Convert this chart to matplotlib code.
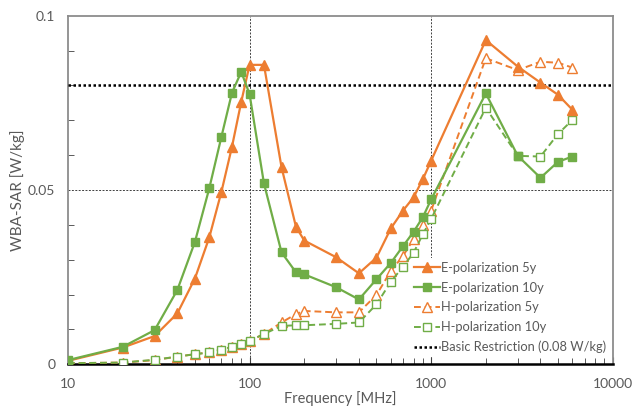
import matplotlib.pyplot as plt
from matplotlib.ticker import FixedLocator, FuncFormatter, MultipleLocator, LogLocator

plt.rcParams['font.family'] = ['Lato', 'DejaVu Sans']

# frequencies [MHz]
freq = [10, 20, 30, 40, 50, 60, 70, 80, 90, 100, 120, 150, 180, 200,
        300, 400, 500, 600, 700, 800, 900, 1000, 2000, 3000, 4000, 5000, 6000]

# WBA-SAR [W/kg]
e_5y = [0.0010, 0.0048, 0.0081, 0.0146, 0.0246, 0.0364, 0.0495, 0.0624, 0.0753, 0.0859,
        0.0859, 0.0565, 0.0395, 0.0355, 0.0307, 0.0261, 0.0306, 0.0390, 0.0441, 0.0479,
        0.0531, 0.0584, 0.0930, 0.0854, 0.0808, 0.0773, 0.0730]
e_10y = [0.0012, 0.0050, 0.0098, 0.0213, 0.0351, 0.0505, 0.0653, 0.0779, 0.0839, 0.0775,
         0.0519, 0.0321, 0.0264, 0.0258, 0.0221, 0.0186, 0.0244, 0.0291, 0.0339, 0.0380,
         0.0422, 0.0473, 0.0777, 0.0598, 0.0535, 0.0581, 0.0596]
h_5y = [0.0003, 0.0005, 0.0012, 0.0022, 0.0029, 0.0034, 0.0042, 0.0050, 0.0058, 0.0067,
        0.0087, 0.0120, 0.0144, 0.0153, 0.0149, 0.0149, 0.0199, 0.0268, 0.0311, 0.0359,
        0.0400, 0.0441, 0.0878, 0.0844, 0.0868, 0.0865, 0.0851]
h_10y = [0.0003, 0.0005, 0.0013, 0.0022, 0.0029, 0.0034, 0.0042, 0.0050, 0.0058, 0.0067,
         0.0087, 0.0110, 0.0112, 0.0112, 0.0116, 0.0120, 0.0172, 0.0237, 0.0280, 0.0320,
         0.0373, 0.0417, 0.0736, 0.0598, 0.0596, 0.0661, 0.0701]

basic_restriction = 0.08

ORANGE = '#ED7D31'
GREEN = '#70AD47'
GRAY = '#595959'

fig = plt.figure(figsize=(6.33, 4.09), dpi=100)
ax = fig.add_axes([0.1074, 0.1093, 0.8606, 0.8523])

ax.set_xscale('log')
ax.set_xlim(10, 10000)
ax.set_ylim(0, 0.1)

# grid lines at major positions
for xv in [100, 1000]:
    ax.axvline(xv, color='#404040', lw=0.7, ls=(0, (2, 1.5)), zorder=1)
ax.axhline(0.05, color='#404040', lw=0.7, ls=(0, (2, 1.5)), zorder=1)

ax.plot(freq, e_5y, color=ORANGE, lw=1.6, marker='^', ms=6.5, zorder=5,
        label='E-polarization 5y')
ax.plot(freq, e_10y, color=GREEN, lw=1.6, marker='s', ms=6, zorder=5,
        label='E-polarization 10y')
ax.plot(freq, h_5y, color=ORANGE, lw=1.4, ls=(0, (3.5, 2)), marker='^', ms=6.5,
        mfc='white', mec=ORANGE, zorder=4, label='H-polarization 5y')
ax.plot(freq, h_10y, color=GREEN, lw=1.4, ls=(0, (3.5, 2)), marker='s', ms=6,
        mfc='white', mec=GREEN, zorder=4, label='H-polarization 10y')
ax.plot([10, 10000], [basic_restriction, basic_restriction], color='black', lw=1.8,
        ls=(0, (1, 1)), zorder=3, label='Basic Restriction (0.08 W/kg)')

# spines
for side in ['left', 'top', 'right']:
    ax.spines[side].set_color('#8c8c8c')
    ax.spines[side].set_linewidth(1.3)
ax.spines['bottom'].set_color('black')
ax.spines['bottom'].set_linewidth(1.8)

# ticks
ax.xaxis.set_major_locator(FixedLocator([10, 100, 1000, 10000]))
ax.xaxis.set_minor_locator(LogLocator(base=10, subs=range(2, 10)))
ax.xaxis.set_major_formatter(FuncFormatter(lambda x, p: f'{int(x)}'))
ax.xaxis.set_minor_formatter(FuncFormatter(lambda x, p: ''))
ax.yaxis.set_major_locator(FixedLocator([0, 0.05, 0.1]))
ax.yaxis.set_minor_locator(MultipleLocator(0.01))
ax.yaxis.set_major_formatter(FuncFormatter(lambda y, p: '0' if y == 0 else f'{y:g}'))
ax.tick_params(axis='both', which='both', direction='in', colors='#404040',
               labelcolor=GRAY, labelsize=10)
ax.tick_params(axis='x', which='major', length=5, pad=10)
ax.tick_params(axis='x', which='minor', length=4)
ax.tick_params(axis='y', which='major', length=0, pad=9)
ax.tick_params(axis='y', which='minor', length=4)

ax.set_xlabel('Frequency [MHz]', fontsize=10.5, color=GRAY, labelpad=0.5)
ax.set_ylabel('WBA-SAR [W/kg]', fontsize=11, color=GRAY, labelpad=2.5)

leg = ax.legend(loc='lower right', bbox_to_anchor=(0.995, 0.02), frameon=True,
                fontsize=9.3, handlelength=2.0, handletextpad=0.1,
                labelspacing=0.6, borderpad=0.3, borderaxespad=0)
leg.get_frame().set_edgecolor('none')
leg.get_frame().set_facecolor('white')
leg.get_frame().set_alpha(1)
for t in leg.get_texts():
    t.set_color(GRAY)

plt.savefig('out.png', dpi=100)
